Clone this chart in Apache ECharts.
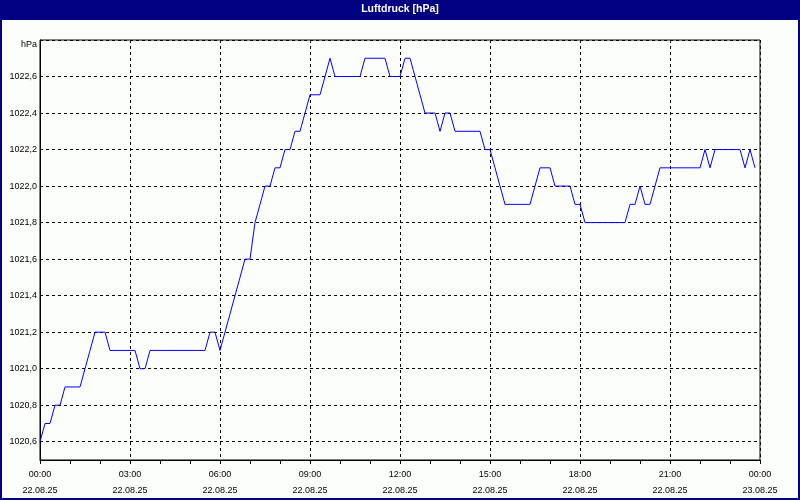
<!DOCTYPE html>
<html>
<head>
<meta charset="utf-8">
<script src="https://cdn.jsdelivr.net/npm/echarts@6/dist/echarts.min.js"></script>
<style>
html,body{margin:0;padding:0;background:#fcfefc;}
#chart{width:800px;height:500px;}
</style>
</head>
<body>
<div id="chart"></div>
<script>
// ---- data ----
const titleText = 'Luftdruck [hPa]';
const unitLabel = 'hPa';
// air pressure every 10 minutes, 22.08.25 00:00 .. 23:50
const pressure = [
  1020.6, 1020.7, 1020.7, 1020.8, 1020.8, 1020.9, 1020.9, 1020.9, 1020.9, 1021.0,
  1021.1, 1021.2, 1021.2, 1021.2, 1021.1, 1021.1, 1021.1, 1021.1, 1021.1, 1021.1,
  1021.0, 1021.0, 1021.1, 1021.1, 1021.1, 1021.1, 1021.1, 1021.1, 1021.1, 1021.1,
  1021.1, 1021.1, 1021.1, 1021.1, 1021.2, 1021.2, 1021.1, 1021.2, 1021.3, 1021.4,
  1021.5, 1021.6, 1021.6, 1021.8, 1021.9, 1022.0, 1022.0, 1022.1, 1022.1, 1022.2,
  1022.2, 1022.3, 1022.3, 1022.4, 1022.5, 1022.5, 1022.5, 1022.6, 1022.7, 1022.6,
  1022.6, 1022.6, 1022.6, 1022.6, 1022.6, 1022.7, 1022.7, 1022.7, 1022.7, 1022.7,
  1022.6, 1022.6, 1022.6, 1022.7, 1022.7, 1022.6, 1022.5, 1022.4, 1022.4, 1022.4,
  1022.3, 1022.4, 1022.4, 1022.3, 1022.3, 1022.3, 1022.3, 1022.3, 1022.3, 1022.2,
  1022.2, 1022.1, 1022.0, 1021.9, 1021.9, 1021.9, 1021.9, 1021.9, 1021.9, 1022.0,
  1022.1, 1022.1, 1022.1, 1022.0, 1022.0, 1022.0, 1022.0, 1021.9, 1021.9, 1021.8,
  1021.8, 1021.8, 1021.8, 1021.8, 1021.8, 1021.8, 1021.8, 1021.8, 1021.9, 1021.9,
  1022.0, 1021.9, 1021.9, 1022.0, 1022.1, 1022.1, 1022.1, 1022.1, 1022.1, 1022.1,
  1022.1, 1022.1, 1022.1, 1022.2, 1022.1, 1022.2, 1022.2, 1022.2, 1022.2, 1022.2,
  1022.2, 1022.1, 1022.2, 1022.1
];
const xTickTimes = ['00:00','03:00','06:00','09:00','12:00','15:00','18:00','21:00','00:00'];
const xTickDates = ['22.08.25','22.08.25','22.08.25','22.08.25','22.08.25','22.08.25','22.08.25','22.08.25','23.08.25'];
const yMin = 1020.5;
const yMax = 1022.8;

// category slots: 10-minute steps over one day (00:00 .. 24:00)
const slotsPerLabel = 18;   // 3 hours
const slotsPerTick = 6;     // 1 hour
const categories = [];
for (let m = 0; m <= 24 * 60; m += 10) {
  const h = Math.floor(m / 60) % 24, mm = m % 60;
  categories.push(String(h).padStart(2, '0') + ':' + String(mm).padStart(2, '0'));
}

const FONT = 'Liberation Sans, Arial, sans-serif';

const chart = echarts.init(document.getElementById('chart'), null, {renderer: 'canvas'});
chart.setOption({
  animation: false,
  backgroundColor: '#fcfefc',
  title: {
    text: titleText,
    left: 'center',
    top: 4,
    padding: 0,
    z: 10,
    textStyle: {color: '#ffffff', fontFamily: FONT, fontWeight: 'bold', fontSize: 10.5}
  },
  graphic: [
    {type: 'rect', z: -1, shape: {x: 0, y: 0, width: 800, height: 20}, style: {fill: '#000080'}},
    {type: 'rect', z: -1, shape: {x: 1, y: 1, width: 798, height: 498}, style: {fill: null, stroke: '#000080', lineWidth: 2}}
  ],
  grid: {
    left: 40, right: 40, top: 40, bottom: 40,
    show: true, borderColor: '#000', borderWidth: 1, backgroundColor: 'transparent'
  },
  xAxis: {
    type: 'category',
    data: categories,
    boundaryGap: false,
    axisLine: {show: true, lineStyle: {color: '#000', width: 1}},
    axisTick: {show: true, interval: slotsPerTick - 1, length: 4, lineStyle: {color: '#000'}},
    axisLabel: {
      interval: slotsPerLabel - 1,
      margin: 7,
      color: '#000',
      fontFamily: FONT,
      fontSize: 9,
      lineHeight: 16,
      formatter: function (value, index) {
        const k = index / slotsPerLabel;
        if (Number.isInteger(k) && k < xTickTimes.length) return xTickTimes[k] + '\n' + xTickDates[k];
        return '';
      }
    },
    splitLine: {show: true, interval: slotsPerLabel - 1, lineStyle: {color: '#000', type: [3, 3], width: 1}}
  },
  yAxis: {
    type: 'value',
    min: yMin,
    max: yMax,
    splitNumber: 11,
    axisLine: {show: true, lineStyle: {color: '#000', width: 1}},
    axisTick: {show: false},
    axisLabel: {
      margin: 3,
      color: '#000',
      fontFamily: FONT,
      fontSize: 9,
      formatter: function (v) {
        if (Math.abs(v - yMax) < 1e-6) return '{u|' + unitLabel + '}';
        if (Math.abs(v - yMin) < 1e-6) return '';
        return v.toFixed(1).replace('.', ',');
      },
      rich: {u: {fontFamily: FONT, fontSize: 9, color: '#000', padding: [9, 0, 0, 0]}}
    },
    splitLine: {show: true, lineStyle: {color: '#000', type: [3, 3], width: 1}}
  },
  series: [{
    type: 'line',
    data: pressure,
    symbol: 'none',
    showSymbol: false,
    lineStyle: {color: '#0000ff', width: 1},
    itemStyle: {color: '#0000ff'}
  }]
});
</script>
</body>
</html>
